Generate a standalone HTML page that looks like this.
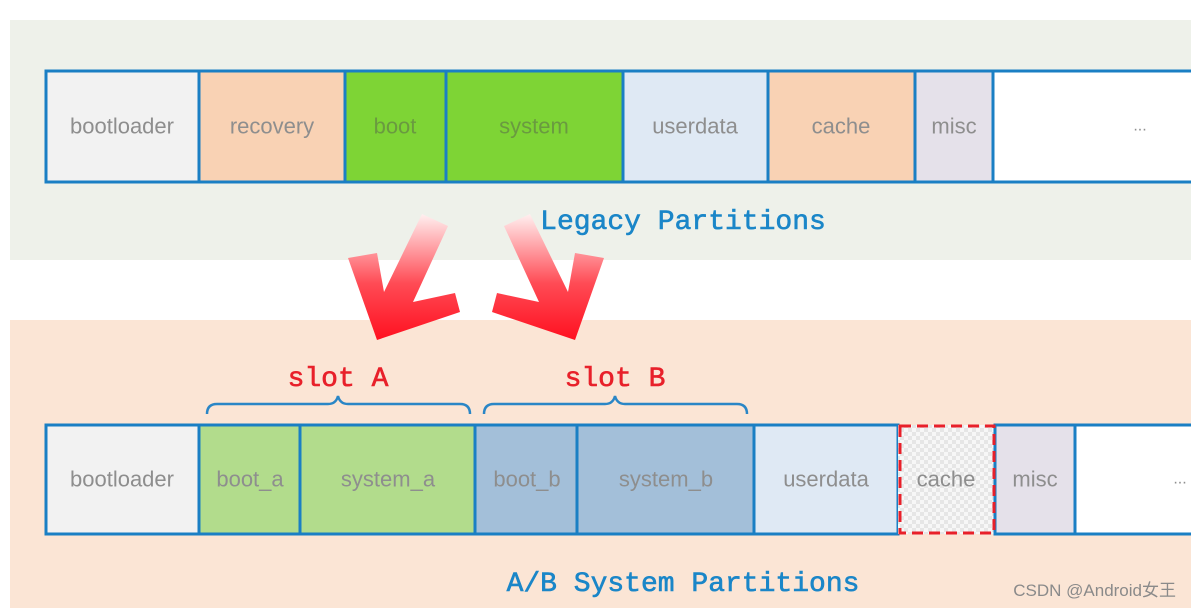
<!DOCTYPE html>
<html><head><meta charset="utf-8"><style>
html,body{margin:0;padding:0;background:#fff;}
svg{display:block;}
.c{font-family:"Liberation Sans",sans-serif;font-size:22px;fill:#8e8e8e;text-anchor:middle;dominant-baseline:central;}
.m{font-family:"Liberation Mono",monospace;font-size:28px;text-anchor:middle;stroke-width:0.6;}
</style></head><body>
<svg width="1191" height="608" viewBox="0 0 1191 608" xmlns="http://www.w3.org/2000/svg">
<defs>
<linearGradient id="gl" x1="0" y1="0" x2="0" y2="1"><stop offset="0" stop-color="#fff0f0"/><stop offset="0.55" stop-color="#ff4b55"/><stop offset="1" stop-color="#ff1020"/></linearGradient>
<pattern id="chk" width="8" height="8" patternUnits="userSpaceOnUse"><rect width="8" height="8" fill="#f7f7f7"/><rect width="4" height="4" fill="#e6e6e6"/><rect x="4" y="4" width="4" height="4" fill="#e6e6e6"/></pattern>
</defs>
<rect x="10" y="20" width="1181" height="240" fill="#eef1ea"/>
<rect x="10" y="320" width="1181" height="288" fill="#fbe5d5"/>
<g stroke="#1a7fc4" stroke-width="3">
<rect x="46" y="71" width="153" height="111" fill="#f2f2f2"/>
<rect x="199" y="71" width="146" height="111" fill="#f9d2b4"/>
<rect x="345" y="71" width="101" height="111" fill="#7ed435"/>
<rect x="446" y="71" width="177" height="111" fill="#7ed435"/>
<rect x="623" y="71" width="145" height="111" fill="#dfe9f4"/>
<rect x="768" y="71" width="147" height="111" fill="#f9d2b4"/>
<rect x="915" y="71" width="78" height="111" fill="#e5e1ea"/>
<rect x="993" y="71" width="210" height="111" fill="#ffffff"/>
</g>
<text class="c" x="122" y="126">bootloader</text>
<text class="c" x="272" y="126">recovery</text>
<text class="c" x="395" y="126" style="fill:#6a9a40">boot</text>
<text class="c" x="534" y="126" style="fill:#6a9a40">system</text>
<text class="c" x="695" y="126">userdata</text>
<text class="c" x="841" y="126">cache</text>
<text class="c" x="954" y="126">misc</text>
<text class="c" x="1140" y="126" style="font-size:16px">...</text>
<text class="m" x="683" y="229" fill="#1a86c8" stroke="#1a86c8">Legacy Partitions</text>
<polygon points="348,258 377,340 460,312 455,293 413,302 448,226 422,214 384,292 377,253" fill="url(#gl)"/>
<polygon points="604,258 575,340 492,312 497,293 539,302 504,226 530,214 568,292 575,253" fill="url(#gl)"/>
<text class="m" x="338" y="386" fill="#e8202a" stroke="#e8202a">slot A</text>
<text class="m" x="615" y="386" fill="#e8202a" stroke="#e8202a">slot B</text>
<g fill="none" stroke="#2a86c6" stroke-width="2.5">
<path d="M207,414 Q207,404 217,404 L328,404 Q336,404 338,396 Q340,404 348,404 L460,404 Q470,404 470,414"/>
<path d="M484,414 Q484,404 494,404 L605,404 Q613,404 615,396 Q617,404 625,404 L737,404 Q747,404 747,414"/>
</g>
<g stroke="#1a7fc4" stroke-width="3">
<rect x="46" y="425" width="153" height="109" fill="#f2f2f2"/>
<rect x="199" y="425" width="101" height="109" fill="#b2dc8c"/>
<rect x="300" y="425" width="175" height="109" fill="#b2dc8c"/>
<rect x="475" y="425" width="102" height="109" fill="#a3bfd9"/>
<rect x="577" y="425" width="177" height="109" fill="#a3bfd9"/>
<rect x="754" y="425" width="144" height="109" fill="#dfe9f4"/>
<rect x="898" y="425" width="97" height="109" fill="url(#chk)" stroke="none"/>
<rect x="995" y="425" width="80" height="109" fill="#e5e1ea"/>
<rect x="1075" y="425" width="130" height="109" fill="#ffffff"/>
</g>
<rect x="900" y="426" width="94" height="107" fill="none" stroke="#e8202a" stroke-width="3" stroke-dasharray="11,6"/>
<text class="c" x="122" y="479">bootloader</text>
<text class="c" x="250" y="479">boot_a</text>
<text class="c" x="388" y="479">system_a</text>
<text class="c" x="527" y="479">boot_b</text>
<text class="c" x="666" y="479">system_b</text>
<text class="c" x="826" y="479">userdata</text>
<text class="c" x="946" y="479">cache</text>
<text class="c" x="1035" y="479">misc</text>
<text class="c" x="1180" y="479" style="font-size:16px">...</text>
<text class="m" x="683" y="591" fill="#1a86c8" stroke="#1a86c8">A/B System Partitions</text>
<text x="1176" y="596" text-anchor="end" style="font-family:'Liberation Sans','Noto Sans CJK SC',sans-serif;font-size:17px;fill:#8a8a8a">CSDN @Android女王</text>
</svg>
</body></html>
